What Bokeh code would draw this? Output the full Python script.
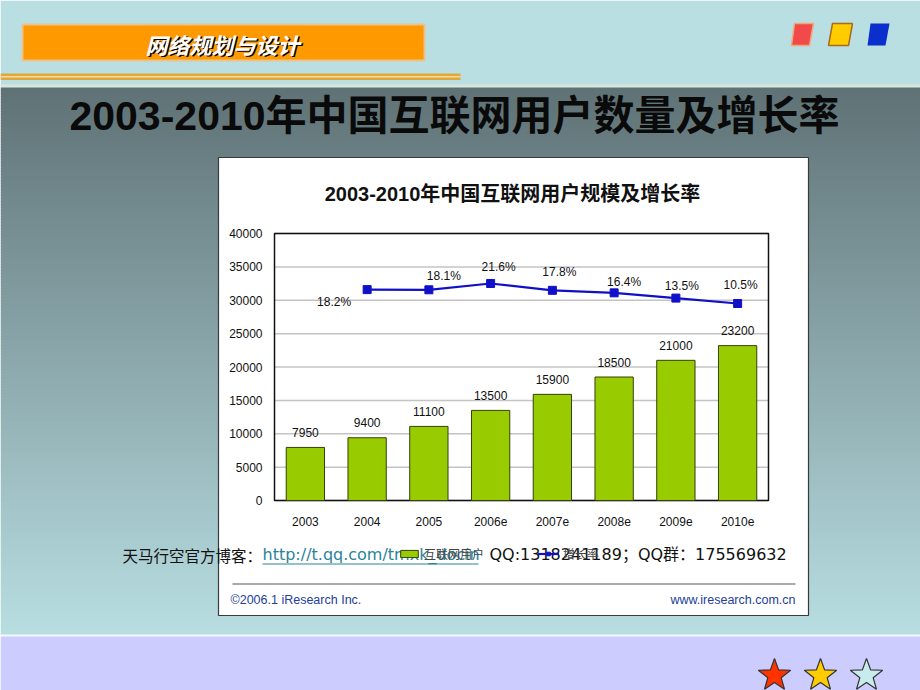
import math
from bokeh.plotting import figure
from bokeh.models import Range1d, ColumnDataSource, Legend, LegendItem
from bokeh.core.properties import value
from bokeh.embed import file_html
from bokeh.resources import INLINE

# ---------------- data ----------------
years = ["2003", "2004", "2005", "2006e", "2007e", "2008e", "2009e", "2010e"]
users = [7950, 9400, 11100, 13500, 15900, 18500, 21000, 23200]
user_labels = ["7950", "9400", "11100", "13500", "15900", "18500", "21000", "23200"]
rate_years = ["2004", "2005", "2006e", "2007e", "2008e", "2009e", "2010e"]
rates = [18.2, 18.1, 21.6, 17.8, 16.4, 13.5, 10.5]
rate_labels = ["18.2%", "18.1%", "21.6%", "17.8%", "16.4%", "13.5%", "10.5%"]
y_ticks = [0, 5000, 10000, 15000, 20000, 25000, 30000, 35000, 40000]
y_tick_labels = ["0", "5000", "10000", "15000", "20000", "25000", "30000", "35000", "40000"]
value_scale = (0, 40000)     # left value axis
rate_scale = (-98.7, 49.3)   # hidden secondary scale of the growth line

# label offsets (screen px) for the rate labels
rate_dx = [-33, 15, 8, 7, 10, 6, 3]
rate_dy = [12, -14, -16, -18, -11, -12, -18]

# ---------------- geometry ----------------
W, H = 920, 690
FL, FR, FT, FB = 274, 768, 233, 500      # plot area of the chart, canvas px
n = len(years)
slot = (FR - FL) / n
x_start, x_end = -FL / slot, n + (W - FR) / slot
upp = (value_scale[1] - value_scale[0]) / (FB - FT)
y_start, y_end = value_scale[0] - (H - FB) * upp, value_scale[1] + FT * upp
rpp = (rate_scale[1] - rate_scale[0]) / (FB - FT)
r_start, r_end = rate_scale[0] - (H - FB) * rpp, rate_scale[1] + FT * rpp

p = figure(width=W, height=H, output_backend="svg", toolbar_location=None,
           x_range=Range1d(x_start, x_end), y_range=Range1d(y_start, y_end),
           x_axis_location=None, y_axis_location=None, min_border=0)
p.extra_x_ranges = {"px": Range1d(0, W)}
p.extra_y_ranges = {"py": Range1d(H, 0), "rate": Range1d(r_start, r_end)}
p.background_fill_color = "white"
p.border_fill_color = "white"
p.outline_line_color = None
p.grid.visible = False

PXY = dict(x_range_name="px", y_range_name="py")

def rects(ls, ts, rs, bs, colors, line=None, lw=1, alpha=1.0):
    p.quad(left=ls, right=rs, top=ts, bottom=bs, fill_color=colors, fill_alpha=alpha,
           line_color=line, line_width=lw, **PXY)

def poly(xs, ys, color, line=None, lw=1):
    p.patch(x=xs, y=ys, fill_color=color, line_color=line, line_width=lw, **PXY)

def label(x, y, text, size, color="black", font="Liberation Sans", align="left",
          baseline="middle", style="normal", level="glyph"):
    p.text(x=[x], y=[y], text=[text], text_font=value(font), text_font_size=f"{size}px",
           text_color=color, text_align=align, text_baseline=baseline,
           text_font_style=style, level=level, **PXY)

# ---------------- slide background ----------------
PX0, PY0, PX1, PY1 = 218, 157, 808, 615   # white chart panel

rects([0], [0], [W], [87], ["#b9dfe3"])
rects([0], [84], [W], [87], ["#d6e6dc"])

top_c = (0x5f, 0x72, 0x76)
bot_c = (0xb8, 0xde, 0xe2)
G0, G1 = 87, 634

def grad(y):
    t = (y - G0) / (G1 - G0)
    c = [round(a + (b - a) * t) for a, b in zip(top_c, bot_c)]
    return "#%02x%02x%02x" % tuple(c)

edges = list(range(G0, G1, 3)) + [G1]
ls, ts, rs, bs, cs = [], [], [], [], []
for y0, y1 in zip(edges[:-1], edges[1:]):
    ls.append(0); rs.append(W); ts.append(y0); bs.append(y1 + 0.6); cs.append(grad((y0 + y1) / 2))
rects(ls, ts, rs, bs, cs)

rects([0], [634], [W], [636], ["#f2f6ff"])
rects([0], [636], [W], [H], ["#ccccff"])

# header
rects([22], [24], [424], [60], ["#ff9900"], line="#ebc38e", lw=2)
rects([0], [73], [460], [79.5], ["#e0a83c"])
rects([0], [75.5], [460], [77], ["#f6dc9c"])
label(223.5, 44.5, "网络规划与设计", 22, color="black", font="Noto Sans CJK SC", align="center",
      style="bold italic")
label(222, 43, "网络规划与设计", 22, color="white", font="Noto Sans CJK SC", align="center",
      style="bold italic")

# coloured parallelograms
poly([794, 813, 809, 791], [23, 23, 45, 45], "#f24a4a", line="#f0a878", lw=1.5)
poly([832, 852, 848, 828], [23, 23, 45, 45], "#ffcc00", line="#a86a20", lw=1.5)
poly([870, 889, 885, 867], [23, 23, 45, 45], "#0a2fcc")

# stars
def star(cx0, cy0, color):
    xs, ys = [], []
    for i in range(10):
        a = math.radians(-90 + 36 * i)
        r = 17 if i % 2 == 0 else 7
        xs.append(cx0 + r * math.cos(a))
        ys.append(cy0 + r * math.sin(a))
    poly(xs, ys, color, line="#333333", lw=1.2)

star(774, 675, "#ff3300")
star(820, 675, "#ffcc00")
star(866, 675, "#c8ecec")

# slide title
label(454, 115, "2003-2010年中国互联网用户数量及增长率", 41, color="#0a0a0a",
      font="'Liberation Sans', 'Noto Sans CJK SC'", align="center", style="bold")

# chart panel + chart title
rects([PX0], [PY0], [PX1], [PY1], ["white"], line="#3a3a3a", lw=1.2)
label(512, 193, "2003-2010年中国互联网用户规模及增长率", 20, color="#111111",
      font="'Liberation Sans', 'Noto Sans CJK SC'", align="center", style="bold")

# footer of the chart image
rects([232], [583], [795], [584], ["#555555"])
label(230, 599, "©2006.1 iResearch Inc.", 12.5, color="#22409a", font="Liberation Sans")
label(795, 599, "www.iresearch.com.cn", 12.5, color="#22409a", font="Liberation Sans",
      align="right")

# ---------------- chart (through the chart scales) ----------------
xs = [i + 0.5 for i in range(n)]
rx = [years.index(y) + 0.5 for y in rate_years]

# grid lines and plot-area border
p.segment(x0=[0] * len(y_ticks), x1=[n] * len(y_ticks), y0=y_ticks, y1=y_ticks,
          line_color="#c4c4c4", line_width=1.5)
p.quad(left=[0], right=[n], bottom=[value_scale[0]], top=[value_scale[1]],
       fill_alpha=0, line_color="#111111", line_width=1.5)

# axis tick labels
p.text(x=[0] * len(y_ticks), y=y_ticks, text=y_tick_labels, x_offset=-12,
       text_align="right", text_baseline="middle", text_font=value("Liberation Sans"),
       text_font_size="12px", text_color="#111111")
p.text(x=xs, y=[value_scale[0]] * n, text=years, y_offset=21,
       text_align="center", text_baseline="middle", text_font=value("Liberation Sans"),
       text_font_size="12px", text_color="#111111")

src = ColumnDataSource(dict(x=xs, users=users, label=user_labels))
bars = p.vbar(x="x", top="users", bottom=value_scale[0], width=0.62, source=src,
              fill_color="#99cc00", line_color="#33400a", line_width=1)
p.text(x="x", y="users", text="label", source=src, y_offset=-15,
       text_align="center", text_baseline="middle", text_font=value("Liberation Sans"),
       text_font_size="12px", text_color="#111111")

rsrc = ColumnDataSource(dict(x=rx, rate=rates, label=rate_labels, dx=rate_dx, dy=rate_dy))
line_r = p.line(x="x", y="rate", source=rsrc, y_range_name="rate",
                line_color="#1010c8", line_width=2.2)
mark_r = p.scatter(x="x", y="rate", source=rsrc, y_range_name="rate", marker="square",
                   size=8, fill_color="#1010c8", line_color="#1010c8")
p.text(x="x", y="rate", text="label", source=rsrc, y_range_name="rate",
       x_offset="dx", y_offset="dy", text_align="center", text_baseline="middle",
       text_font=value("Liberation Sans"), text_font_size="12px", text_color="#111111")

legend = Legend(items=[LegendItem(label="互联网用户", renderers=[bars]),
                       LegendItem(label="增长率", renderers=[line_r, mark_r])],
                orientation="horizontal", location=(398, 128), padding=0, margin=0,
                spacing=53, glyph_width=22, glyph_height=9, label_height=12,
                label_standoff=4, label_text_font="Noto Sans CJK SC",
                label_text_font_size="12px", border_line_alpha=0, background_fill_alpha=0)
p.add_layout(legend)

# watermark text line (drawn over the legend)
label(122, 554, "天马行空官方博客：", 15.5, color="#111111", font="Noto Sans CJK SC",
      level="overlay")
label(262, 554, "http://t.qq.com/tmxk_docin", 16, color="#2a8498",
      font="'DejaVu Sans', 'Noto Sans CJK SC'", level="overlay")
p.segment(x0=[262], x1=[478], y0=[563.5], y1=[563.5], line_color="#2a8498", line_width=1.2,
          level="overlay", **PXY)
label(489, 554, "QQ:1318241189；QQ群：175569632", 16, color="#111111",
      font="'DejaVu Sans', 'Noto Sans CJK SC'", level="overlay")

open("out.html", "w").write(file_html(p, INLINE))
